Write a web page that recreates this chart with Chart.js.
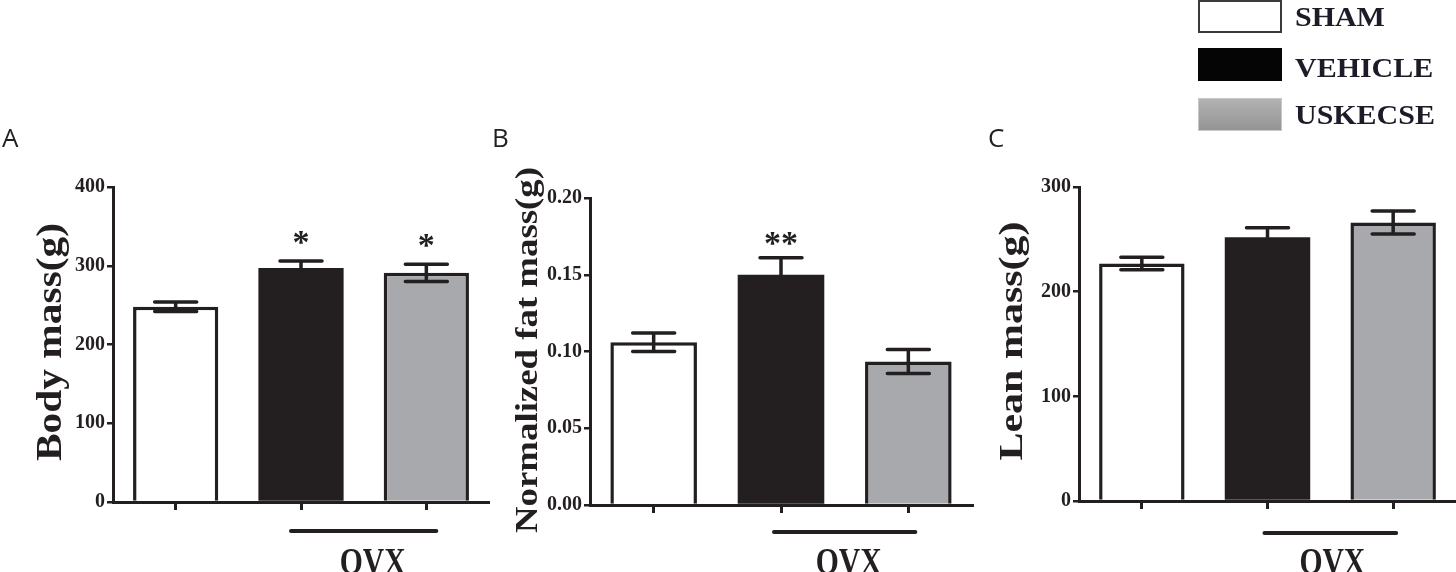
<!DOCTYPE html>
<html>
<head>
<meta charset="utf-8">
<script src="https://cdn.jsdelivr.net/npm/chart.js@4.4.0/dist/chart.umd.min.js"></script>
<style>
  body { margin: 0; width: 1456px; height: 572px; background: #fff; position: relative; overflow: hidden; }
  canvas { position: absolute; top: 0; }
</style>
</head>
<body>
<canvas id="chartA" width="490" height="572" style="left:0px"></canvas>
<canvas id="chartB" width="485" height="572" style="left:490px"></canvas>
<canvas id="chartC" width="481" height="572" style="left:975px"></canvas>
<script>
// groups + colours
const groups = ['SHAM', 'VEHICLE', 'USKECSE'];
const barColors = ['#ffffff', '#231f20', '#a7a9ac'];

// A - body mass (g), mean and SEM
const bodyMass = [248, 297, 291];
const bodyMassSem = [6, 9, 11];
const bodyMassStars = ['', '*', '*'];

// B - normalized fat mass (g)
const fatMass = [0.106, 0.150, 0.0935];
const fatMassSem = [0.006, 0.011, 0.0078];
const fatMassStars = ['', '**', ''];

// C - lean mass (g)
const leanMass = [227, 252, 266];
const leanMassSem = [6, 9, 11];
const leanMassStars = ['', '', ''];

const ink = '#231f20';
const serif = '"Liberation Serif", "Times New Roman", serif';

const figurePlugin = {
  id: 'figure',
  afterDatasetsDraw(chart, args, opts) {
    const ctx = chart.ctx;
    const y = chart.scales.y;
    const ds = chart.data.datasets[0];
    const meta = chart.getDatasetMeta(0);
    ctx.save();
    ctx.strokeStyle = ink;
    ctx.fillStyle = ink;
    ctx.lineWidth = 3.5;
    ctx.lineCap = 'round';
    meta.data.forEach((bar, i) => {
      const hi = y.getPixelForValue(ds.data[i] + opts.sem[i]);
      const lo = y.getPixelForValue(ds.data[i] - opts.sem[i]);
      ctx.beginPath();
      ctx.moveTo(bar.x, hi); ctx.lineTo(bar.x, lo);
      ctx.moveTo(bar.x - 21, hi); ctx.lineTo(bar.x + 21, hi);
      ctx.moveTo(bar.x - 21, lo); ctx.lineTo(bar.x + 21, lo);
      ctx.stroke();
      if (opts.stars[i]) {
        ctx.font = 'bold 34px ' + serif;
        ctx.textAlign = 'center';
        ctx.textBaseline = 'alphabetic';
        ctx.fillText(opts.stars[i], bar.x, hi - opts.starGap + 17);
      }
    });
    ctx.restore();
  },
  afterDraw(chart, args, opts) {
    const ctx = chart.ctx;
    const x = chart.scales.x;
    ctx.save();
    ctx.fillStyle = ink;
    ctx.strokeStyle = ink;

    // panel letter
    ctx.font = '26px "Open Sans", "Noto Sans", sans-serif';
    ctx.textAlign = 'left';
    ctx.textBaseline = 'alphabetic';
    ctx.fillText(opts.letter, opts.letterX, 147);

    // y title, rotated and stretched to its length
    ctx.save();
    ctx.font = 'bold ' + opts.titleSize + 'px ' + serif;
    ctx.translate(opts.titleX, opts.titleY);
    ctx.rotate(-Math.PI / 2);
    const tw = ctx.measureText(opts.title).width;
    ctx.scale(opts.titleLen / tw, 1);
    ctx.textAlign = 'center';
    ctx.fillText(opts.title, 0, 0);
    ctx.restore();

    // OVX bracket under the two treated groups
    const x1 = x.getPixelForValue(1) - opts.ovxExt;
    const x2 = x.getPixelForValue(2) + opts.ovxExt;
    ctx.lineWidth = 4;
    ctx.lineCap = 'round';
    ctx.beginPath();
    ctx.moveTo(x1, opts.ovxY);
    ctx.lineTo(x2, opts.ovxY);
    ctx.stroke();
    ctx.save();
    ctx.font = 'bold 38px ' + serif;
    ctx.textAlign = 'center';
    ctx.scale(0.78, 1);
    ctx.fillText('OVX', ((x1 + x2) / 2 + opts.ovxDx) / 0.78, 574);
    ctx.restore();

    // legend (only on C)
    if (opts.legend) {
      const tops = [0, 48, 98];
      const bases = [26, 77, 124];
      groups.forEach((g, i) => {
        const bx = 223, by = tops[i], bw = 84, bh = 33;
        if (i === 0) {
          ctx.fillStyle = '#ffffff';
          ctx.fillRect(bx, by, bw, bh);
          ctx.lineWidth = 2;
          ctx.strokeStyle = '#3a3a3a';
          ctx.strokeRect(bx + 1, by + 1, bw - 2, bh - 2);
        } else if (i === 1) {
          ctx.fillStyle = '#050505';
          ctx.fillRect(bx, by, bw, bh);
        } else {
          const grad = ctx.createLinearGradient(0, by, 0, by + bh);
          grad.addColorStop(0, '#b3b3b3');
          grad.addColorStop(1, '#939393');
          ctx.fillStyle = grad;
          ctx.fillRect(bx, by, bw, bh);
          ctx.lineWidth = 1;
          ctx.strokeStyle = '#c8c8c8';
          ctx.strokeRect(bx + 0.5, by + 0.5, bw - 1, bh - 1);
        }
        ctx.save();
        ctx.fillStyle = '#1c1c28';
        ctx.font = 'bold 27px ' + serif;
        ctx.textAlign = 'left';
        ctx.scale(1.11, 1);
        ctx.fillText(g, 320 / 1.11, bases[i]);
        ctx.restore();
      });
    }
    ctx.restore();
  }
};

function makeChart(id, values, yMax, yStep, decimals, pad, yWidth, fig) {
  return new Chart(document.getElementById(id), {
    type: 'bar',
    data: {
      labels: groups,
      datasets: [{
        data: values,
        backgroundColor: barColors,
        borderColor: ink,
        borderWidth: [3.5, 0, 3.5],
        borderSkipped: 'start',
        barPercentage: 0.68,
        categoryPercentage: 1
      }]
    },
    options: {
      responsive: false,
      animation: false,
      layout: { padding: pad },
      plugins: {
        legend: { display: false },
        tooltip: { enabled: false },
        figure: fig
      },
      scales: {
        x: {
          offset: true,
          grid: { offset: false, drawOnChartArea: false, drawTicks: true, tickLength: 8, color: ink, lineWidth: 3 },
          border: { color: ink, width: 3 },
          ticks: { display: false },
          afterFit: (s) => { s.height = 0; }
        },
        y: {
          min: 0,
          max: yMax,
          grid: { drawOnChartArea: false, drawTicks: true, tickLength: 6, color: ink, lineWidth: 2.5 },
          border: { color: ink, width: 3 },
          ticks: {
            stepSize: yStep,
            padding: 2,
            color: ink,
            font: { family: serif, size: 20, weight: 'bold' },
            callback: (v) => v.toFixed(decimals)
          },
          afterFit: (s) => { s.width = yWidth; }
        }
      }
    },
    plugins: [figurePlugin]
  });
}

makeChart('chartA', bodyMass, 400, 100, 0,
  { top: 187, bottom: 70, left: 0, right: 1 }, 113,
  { sem: bodyMassSem, stars: bodyMassStars, starGap: 25, letter: 'A', letterX: 2,
    title: 'Body mass(g)', titleSize: 36, titleX: 61, titleY: 342, titleLen: 238,
    ovxY: 531, ovxExt: 10, ovxDx: 9, legend: false });

makeChart('chartB', fatMass, 0.2, 0.05, 2,
  { top: 198, bottom: 67, left: 0, right: 3 }, 100,
  { sem: fatMassSem, stars: fatMassStars, starGap: 21, letter: 'B', letterX: 2,
    title: 'Normalized fat mass(g)', titleSize: 32, titleX: 46.5, titleY: 350, titleLen: 366,
    ovxY: 532, ovxExt: 7, ovxDx: 4, legend: false });

makeChart('chartC', leanMass, 300, 100, 0,
  { top: 187, bottom: 71, left: 0, right: 0 }, 104,
  { sem: leanMassSem, stars: leanMassStars, starGap: 21, letter: 'C', letterX: 13,
    title: 'Lean mass(g)', titleSize: 34, titleX: 47, titleY: 341, titleLen: 239,
    ovxY: 533, ovxExt: 3, ovxDx: 2, legend: true });
</script>
</body>
</html>
